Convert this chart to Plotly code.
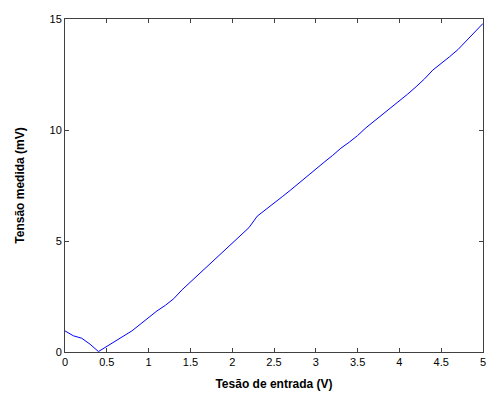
import plotly.graph_objects as go

x_vals = [round(i * 0.1, 1) for i in range(51)]
y_vals = [0.95, 0.73, 0.62, 0.35, 0.02, 0.25, 0.50, 0.70, 0.95, 1.25,
          1.55, 1.85, 2.10, 2.40, 2.80, 3.15, 3.50, 3.85, 4.20, 4.55,
          4.90, 5.22, 5.60, 6.12, 6.40, 6.70, 7.00, 7.30, 7.62, 7.95,
          8.25, 8.55, 8.85, 9.18, 9.45, 9.75, 10.10, 10.40, 10.70, 11.00,
          11.30, 11.62, 11.95, 12.30, 12.70, 12.98, 13.30, 13.62, 14.00, 14.40,
          14.80]
x_ticks = [0, 0.5, 1, 1.5, 2, 2.5, 3, 3.5, 4, 4.5, 5]
x_tick_text = ["0", "0.5", "1", "1.5", "2", "2.5", "3", "3.5", "4", "4.5", "5"]
y_ticks = [0, 5, 10, 15]

fig = go.Figure(go.Scatter(x=x_vals, y=y_vals, mode="lines",
                           line=dict(color="#0000ff", width=1)))

axis_common = dict(showgrid=False, zeroline=False, showline=True, mirror="ticks",
                   linecolor="#404040", linewidth=1, ticks="inside", ticklen=4,
                   tickcolor="#404040", ticklabeloverflow="allow",
                   tickfont=dict(family="Liberation Sans, Arial", size=11, color="black"))

fig.update_layout(
    width=488, height=395,
    margin=dict(l=65, r=2, t=19, b=43),
    paper_bgcolor="white", plot_bgcolor="white",
    showlegend=False,
    font=dict(family="Liberation Sans, Arial", size=11, color="black"),
    xaxis=dict(range=[0, 5], tickvals=x_ticks, ticktext=x_tick_text,
               title=dict(text="<b>Tesão de entrada (V)</b>", standoff=12,
                          font=dict(size=12)), **axis_common),
    yaxis=dict(range=[0, 15], tickvals=y_ticks,
               title=dict(text="<b>Tensão medida (mV)</b>", standoff=22,
                          font=dict(size=12)), **axis_common),
)

fig.write_html("out.html", config={"displayModeBar": False},
               post_script="document.body.style.margin='0';document.body.style.overflow='hidden';")
